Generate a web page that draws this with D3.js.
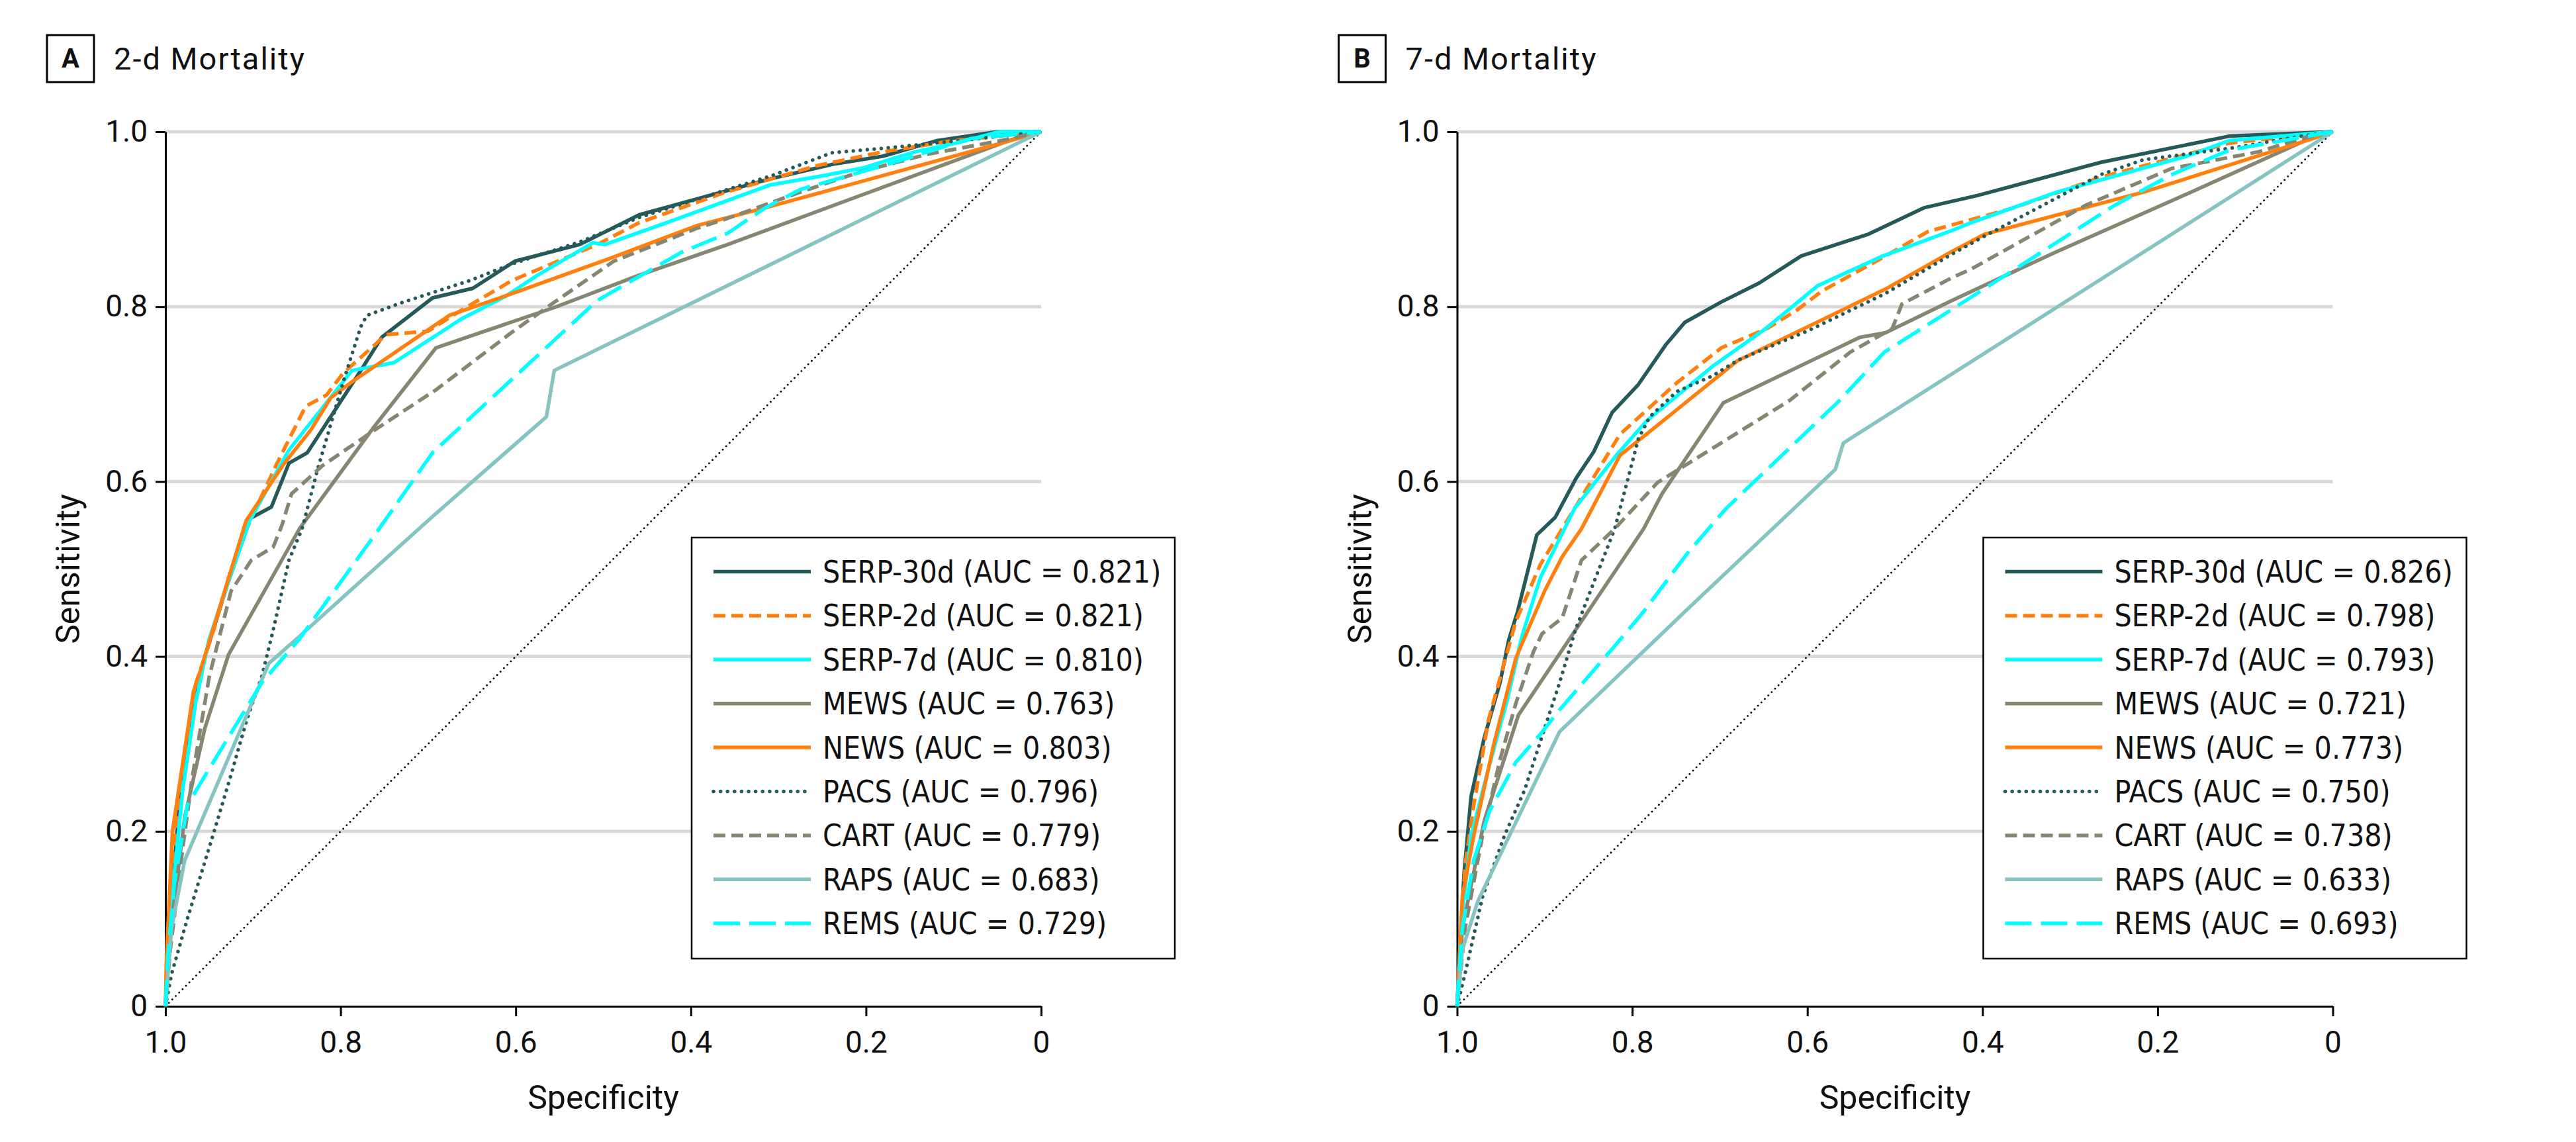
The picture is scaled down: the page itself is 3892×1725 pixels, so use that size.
<!DOCTYPE html>
<html lang="en">
<head>
<meta charset="UTF-8">
<title>ROC curves for 2-d and 7-d mortality</title>
<script src="https://d3js.org/d3.v7.min.js"></script>
<style>
  body { margin: 0; background: #fff; }
  svg text { font-family: Roboto, "Open Sans", sans-serif; fill: #111; }
  .legend text { font-family: "DejaVu Sans Condensed", "DejaVu Sans", sans-serif; font-stretch: condensed; }
  .grid line { stroke: #d9d9d9; stroke-width: 5px; }
  .axis path, .axis line { stroke: #000; stroke-width: 3px; }
  .axis text { font-size: 46px; }
  .curve { fill: none; stroke-width: 5.5px; stroke-linejoin: round; }
</style>
</head>
<body>
<div id="chart"></div>
<script>
// models in legend order, AUC per panel
const models = ["SERP-30d", "SERP-2d", "SERP-7d", "MEWS", "NEWS", "PACS", "CART", "RAPS", "REMS"];
const auc2d = ["0.821", "0.821", "0.810", "0.763", "0.803", "0.796", "0.779", "0.683", "0.729"];
const auc7d = ["0.826", "0.798", "0.793", "0.721", "0.773", "0.750", "0.738", "0.633", "0.693"];

const tickValues = [1, 0.8, 0.6, 0.4, 0.2, 0];
const tickLabels = ["1.0", "0.8", "0.6", "0.4", "0.2", "0"];

// [specificity, sensitivity] (2-d mortality)
const d2_serp30 = [[1,0],[0.995,0.10],[0.985,0.22],[0.97,0.33],[0.955,0.40],[0.93,0.48],[0.903,0.558],[0.879,0.571],[0.859,0.621],[0.838,0.633],[0.777,0.727],[0.753,0.765],[0.695,0.81],[0.649,0.821],[0.601,0.852],[0.527,0.871],[0.459,0.905],[0.372,0.929],[0.31,0.946],[0.237,0.963],[0.181,0.972],[0.118,0.99],[0.05,1],[0,1]];
const d2_serp2 = [[1,0],[0.996,0.1],[0.988,0.2],[0.975,0.3],[0.965,0.37],[0.945,0.43],[0.925,0.5],[0.912,0.535],[0.895,0.573],[0.873,0.62],[0.84,0.686],[0.816,0.699],[0.797,0.724],[0.748,0.768],[0.7,0.772],[0.662,0.796],[0.604,0.83],[0.507,0.871],[0.459,0.896],[0.363,0.93],[0.257,0.961],[0.181,0.977],[0.106,0.989],[0,1]];
const d2_serp7 = [[1,0],[0.997,0.05],[0.99,0.15],[0.98,0.25],[0.965,0.35],[0.95,0.42],[0.93,0.48],[0.904,0.555],[0.859,0.636],[0.787,0.727],[0.739,0.736],[0.662,0.786],[0.613,0.811],[0.575,0.836],[0.512,0.873],[0.498,0.871],[0.411,0.902],[0.31,0.939],[0.247,0.95],[0.202,0.959],[0.144,0.977],[0.093,0.988],[0.048,1],[0,1]];
const d2_mews = [[1,0],[0.995,0.08],[0.978,0.216],[0.955,0.318],[0.928,0.402],[0.847,0.546],[0.763,0.661],[0.691,0.753],[0.556,0.799],[0.459,0.836],[0.358,0.871],[0.028,0.993],[0,1]];
const d2_news = [[1,0],[0.999,0.05],[0.992,0.2],[0.968,0.36],[0.96,0.384],[0.908,0.555],[0.865,0.62],[0.834,0.659],[0.811,0.696],[0.787,0.714],[0.676,0.79],[0.604,0.815],[0.493,0.855],[0.392,0.893],[0.315,0.913],[0.02,0.994],[0,1]];
const d2_pacs = [[1,0],[0.993,0.037],[0.975,0.1],[0.945,0.198],[0.925,0.265],[0.907,0.328],[0.89,0.377],[0.877,0.43],[0.859,0.51],[0.844,0.546],[0.826,0.615],[0.797,0.714],[0.777,0.777],[0.77,0.79],[0.729,0.805],[0.652,0.83],[0.604,0.849],[0.527,0.874],[0.459,0.902],[0.358,0.934],[0.307,0.95],[0.239,0.976],[0.181,0.981],[0.131,0.986],[0.081,0.991],[0.038,0.996],[0,1]];
const d2_cart = [[1,0],[0.995,0.06],[0.983,0.16],[0.97,0.258],[0.95,0.377],[0.925,0.475],[0.902,0.51],[0.877,0.525],[0.867,0.55],[0.856,0.586],[0.821,0.618],[0.761,0.659],[0.691,0.705],[0.604,0.771],[0.556,0.805],[0.488,0.852],[0.392,0.89],[0.358,0.901],[0.275,0.931],[0.207,0.954],[0.131,0.974],[0.045,0.99],[0,1]];
const d2_raps = [[1,0],[0.993,0.09],[0.978,0.167],[0.882,0.392],[0.847,0.423],[0.695,0.56],[0.565,0.674],[0.556,0.727],[0,1]];
const d2_rems = [[1,0],[0.997,0.06],[0.99,0.14],[0.975,0.23],[0.951,0.27],[0.89,0.37],[0.847,0.42],[0.756,0.546],[0.695,0.633],[0.507,0.807],[0.411,0.862],[0.358,0.884],[0.315,0.913],[0.275,0.934],[0.181,0.961],[0.081,0.992],[0,1]];

// panel B (7-d mortality)
const d7_serp30 = [[1,0],[0.992,0.153],[0.984,0.24],[0.969,0.307],[0.951,0.37],[0.941,0.419],[0.931,0.451],[0.909,0.539],[0.888,0.559],[0.864,0.604],[0.844,0.634],[0.823,0.679],[0.793,0.711],[0.762,0.756],[0.74,0.782],[0.699,0.805],[0.655,0.827],[0.607,0.858],[0.53,0.883],[0.467,0.913],[0.406,0.927],[0.265,0.965],[0.118,0.995],[0,1]];
const d7_serp2 = [[1,0],[0.991,0.16],[0.981,0.23],[0.964,0.328],[0.933,0.44],[0.905,0.505],[0.866,0.569],[0.814,0.654],[0.749,0.713],[0.698,0.753],[0.646,0.775],[0.612,0.796],[0.583,0.818],[0.516,0.855],[0.462,0.886],[0.364,0.913],[0.265,0.948],[0.118,0.987],[0,1]];
const d7_serp7 = [[1,0],[0.995,0.1],[0.984,0.195],[0.966,0.265],[0.943,0.349],[0.926,0.423],[0.905,0.49],[0.866,0.569],[0.819,0.629],[0.784,0.669],[0.708,0.732],[0.65,0.773],[0.588,0.824],[0.516,0.857],[0.435,0.887],[0.413,0.896],[0.315,0.931],[0.167,0.972],[0.118,0.99],[0,1]];
const d7_mews = [[1,0],[0.994,0.089],[0.969,0.212],[0.93,0.333],[0.787,0.546],[0.766,0.586],[0.696,0.69],[0.54,0.765],[0.511,0.77],[0.435,0.807],[0.315,0.863],[0.184,0.921],[0.02,0.995],[0,1]];
const d7_news = [[1,0],[0.994,0.125],[0.981,0.195],[0.958,0.3],[0.933,0.398],[0.9,0.475],[0.88,0.514],[0.858,0.546],[0.814,0.63],[0.784,0.654],[0.68,0.738],[0.511,0.82],[0.435,0.863],[0.397,0.883],[0.216,0.931],[0.02,0.993],[0,1]];
const d7_pacs = [[1,0],[0.991,0.037],[0.971,0.125],[0.946,0.195],[0.923,0.247],[0.9,0.318],[0.883,0.37],[0.865,0.43],[0.845,0.482],[0.827,0.528],[0.82,0.546],[0.806,0.599],[0.793,0.649],[0.78,0.674],[0.749,0.703],[0.708,0.721],[0.679,0.739],[0.598,0.773],[0.511,0.815],[0.435,0.86],[0.397,0.881],[0.265,0.951],[0.216,0.968],[0.111,0.982],[0.036,0.995],[0,1]];
const d7_cart = [[1,0],[0.991,0.089],[0.971,0.195],[0.951,0.282],[0.933,0.346],[0.913,0.405],[0.903,0.426],[0.88,0.444],[0.858,0.51],[0.82,0.546],[0.771,0.599],[0.62,0.693],[0.551,0.748],[0.503,0.775],[0.492,0.803],[0.435,0.833],[0.413,0.843],[0.282,0.916],[0.184,0.958],[0.085,0.977],[0.036,0.992],[0,1]];
const d7_raps = [[1,0],[0.994,0.065],[0.976,0.121],[0.883,0.314],[0.737,0.454],[0.568,0.614],[0.559,0.644],[0,1]];
const d7_rems = [[1,0],[0.999,0.019],[0.994,0.089],[0.981,0.167],[0.963,0.223],[0.933,0.279],[0.905,0.311],[0.883,0.339],[0.82,0.412],[0.788,0.45],[0.737,0.518],[0.693,0.569],[0.564,0.692],[0.512,0.748],[0.43,0.8],[0.347,0.853],[0.249,0.916],[0.184,0.951],[0.118,0.979],[0,1]];

// line look for each model, same order as models
const lineStyles = [
  { color: "#26595a", dash: null },
  { color: "#ff800e", dash: "18 9" },
  { color: "#00ffff", dash: null },
  { color: "#878672", dash: null },
  { color: "#ff800e", dash: null },
  { color: "#26595a", dash: "0.1 10.5", cap: "round" },
  { color: "#878672", dash: "18 9" },
  { color: "#86c4c2", dash: null },
  { color: "#00ffff", dash: "40 14" }
];

const width = 3892, height = 1725;
const svg = d3.select("#chart").append("svg")
    .attr("width", width)
    .attr("height", height);

function drawPanel(left, letter, title, curves, aucs) {
  const x = d3.scaleLinear().domain([1, 0]).range([left, left + 1323]);
  const y = d3.scaleLinear().domain([0, 1]).range([1520, 199]);
  const g = svg.append("g");

  // panel label box + title
  g.append("rect")
      .attr("x", left - 179).attr("y", 53)
      .attr("width", 71).attr("height", 71)
      .attr("fill", "none").attr("stroke", "#000").attr("stroke-width", 3);
  g.append("text")
      .attr("x", left - 143.5).attr("y", 102)
      .attr("text-anchor", "middle")
      .style("font-size", "40px").style("font-weight", "bold")
      .text(letter);
  g.append("text")
      .attr("x", left - 78).attr("y", 105)
      .style("font-size", "47px").style("letter-spacing", "2px")
      .text(title);

  // gridlines
  g.append("g").attr("class", "grid")
    .selectAll("line")
    .data([0.2, 0.4, 0.6, 0.8, 1])
    .enter().append("line")
      .attr("x1", x(1)).attr("x2", x(0))
      .attr("y1", d => y(d)).attr("y2", d => y(d));

  // chance diagonal
  g.append("line")
      .attr("x1", x(1)).attr("y1", y(0))
      .attr("x2", x(0)).attr("y2", y(1))
      .attr("stroke", "#000").attr("stroke-width", 2.8)
      .attr("stroke-dasharray", "0.1 7.2").attr("stroke-linecap", "round");

  // axes
  const yAxis = d3.axisLeft(y).tickValues(tickValues)
      .tickFormat((d, i) => tickLabels[i]).tickSize(15).tickSizeOuter(0).tickPadding(12);
  const xAxis = d3.axisBottom(x).tickValues(tickValues)
      .tickFormat((d, i) => tickLabels[i]).tickSize(15).tickSizeOuter(0).tickPadding(22);
  g.append("g").attr("class", "axis")
      .attr("transform", `translate(${left},0)`)
      .call(yAxis)
      .selectAll("text").style("font-family", "Roboto, sans-serif");
  g.append("g").attr("class", "axis")
      .attr("transform", "translate(0,1520)")
      .call(xAxis)
      .selectAll("text").style("font-family", "Roboto, sans-serif");
  g.selectAll(".axis text").attr("fill", "#111");

  g.append("text")
      .attr("x", (x(1) + x(0)) / 2).attr("y", 1675)
      .attr("text-anchor", "middle")
      .style("font-size", "50px")
      .text("Specificity");
  g.append("text")
      .attr("transform", `translate(${left - 130},${(y(0) + y(1)) / 2}) rotate(-90)`)
      .attr("text-anchor", "middle")
      .style("font-size", "50px")
      .text("Sensitivity");

  // ROC curves
  const line = d3.line().x(d => x(d[0])).y(d => y(d[1]));
  g.append("g").selectAll("path")
    .data(curves)
    .enter().append("path")
      .attr("class", "curve")
      .attr("d", line)
      .attr("stroke", (d, i) => lineStyles[i].color)
      .attr("stroke-dasharray", (d, i) => lineStyles[i].dash)
      .attr("stroke-linecap", (d, i) => lineStyles[i].cap || "butt");

  // legend
  const lx = left + 795, ly = 812;
  const leg = g.append("g").attr("class", "legend");
  leg.append("rect")
      .attr("x", lx).attr("y", ly)
      .attr("width", 730).attr("height", 636)
      .attr("fill", "#fff").attr("stroke", "#000").attr("stroke-width", 2.5);
  const row = leg.selectAll("g.row")
    .data(models)
    .enter().append("g")
      .attr("class", "row")
      .attr("transform", (d, i) => `translate(${lx},${ly + 51.5 + i * 66.4})`);
  row.append("line")
      .attr("x1", 33).attr("x2", 180)
      .attr("stroke", (d, i) => lineStyles[i].color)
      .attr("stroke-width", 5.5)
      .attr("stroke-dasharray", (d, i) => lineStyles[i].dash)
      .attr("stroke-linecap", (d, i) => lineStyles[i].cap || "butt");
  row.append("text")
      .attr("x", 198).attr("dy", "0.36em")
      .style("font-size", "46px")
      .text((d, i) => `${d} (AUC = ${aucs[i]})`);
}

drawPanel(250, "A", "2-d Mortality",
  [d2_serp30, d2_serp2, d2_serp7, d2_mews, d2_news, d2_pacs, d2_cart, d2_raps, d2_rems], auc2d);
drawPanel(2201.5, "B", "7-d Mortality",
  [d7_serp30, d7_serp2, d7_serp7, d7_mews, d7_news, d7_pacs, d7_cart, d7_raps, d7_rems], auc7d);
</script>
</body>
</html>
